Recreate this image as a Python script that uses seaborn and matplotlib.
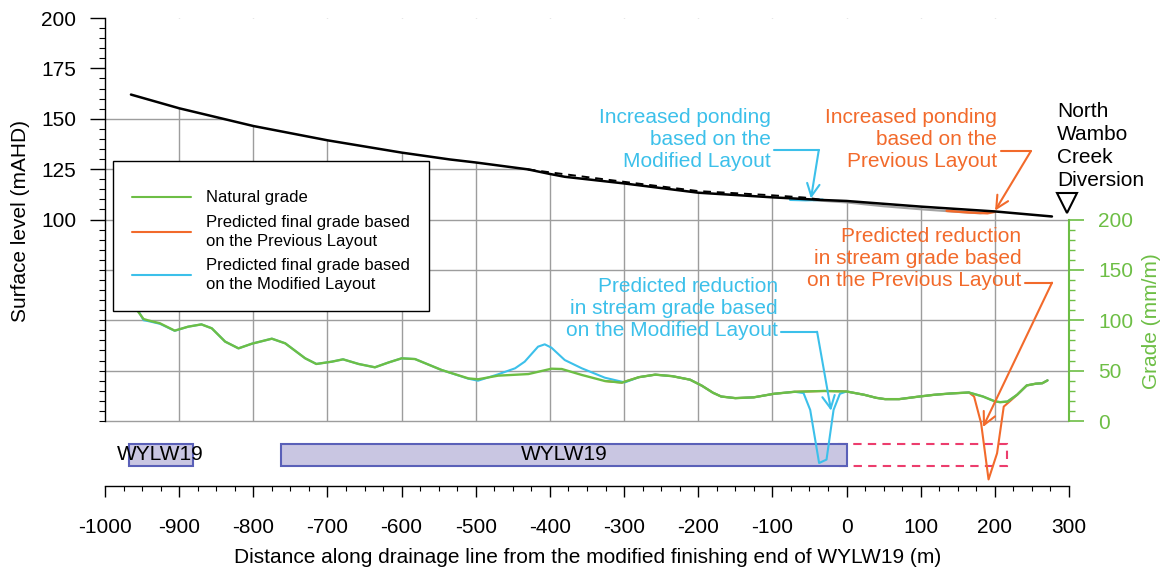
import numpy as np
import matplotlib
matplotlib.use("Agg")
import matplotlib.pyplot as plt
from matplotlib.lines import Line2D
import seaborn as sns

# -------------------------------
# Data
# -------------------------------
# surface level profile (mAHD)
surf_x = [-965, -900, -800, -700, -600, -535, -500, -430, -400, -380, -300,
          -200, -100, -34, 0, 100, 200, 277]
surf_y = [162.0, 155.2, 146.4, 139.3, 133.2, 129.8, 128.3, 124.9, 122.6, 121.2,
          117.9, 113.3, 111.0, 109.7, 109.2, 106.4, 104.0, 101.5]

# dashed surface where ponding rises above (modified layout)
pond_x = [-430, -400, -300, -200, -100, -57, -34]
pond_y = [124.9, 123.4, 118.7, 114.1, 112.0, 110.9, 109.8]

# lower grey surface (previous layout)
prev_surf_x = [-45, 0, 50, 100, 150, 180, 198]
prev_surf_y = [109.6, 108.5, 106.6, 105.1, 103.8, 103.1, 103.9]

# ponding segments
pond_mod_x = [-76, -55, -32]
pond_mod_y = [109.8, 109.6, 109.8]
pond_prev_x = [135, 165, 190, 200]
pond_prev_y = [104.3, 103.5, 103.1, 103.8]

# grade (mm/m) - natural
nat_x = [-965, -957, -948, -942, -926, -906, -888, -870, -856, -838, -820, -802,
         -775, -757, -730, -715, -694, -679, -658, -636, -618, -600, -582, -546,
         -510, -497, -470, -429, -398, -384, -357, -326, -303, -280, -258, -235,
         -211, -195, -180, -169, -150, -125, -98, -70, -30, 0, 24, 40, 52, 71,
         95, 118, 140, 165, 184, 200, 207, 217, 230, 243, 255, 264, 271]
nat_g = [130, 110.2, 101.2, 99.9, 97, 89.7, 93.6, 95.9, 92, 78.8, 72.1, 76.7,
         81.7, 77.1, 62.2, 56.6, 58.9, 61.2, 56.6, 53.3, 58, 62.2, 61.5, 50.6,
         42.3, 41.4, 45, 46.6, 51.9, 51.6, 45.7, 39.7, 38.1, 43.5, 46, 44.5,
         41, 35, 28, 24.3, 22.7, 23.5, 27, 29, 29.8, 29.3, 26, 23, 21.7, 21.7,
         24, 26, 27.3, 28.3, 24.3, 19.5, 18.7, 19.3, 26, 35.3, 37, 37.5, 40.3]

# grade - predicted, modified layout
mod_x = [-965, -957, -948, -942, -926, -906, -888, -870, -856, -838, -820, -802,
         -775, -757, -730, -715, -694, -679, -658, -636, -618, -600, -582, -546,
         -510, -497, -470, -447, -434, -416, -407, -398, -380, -357, -326, -299,
         -280, -258, -235, -211, -195, -180, -169, -150, -125, -98, -70, -58,
         -49, -37, -27, -17.5, -9, 0, 24, 40, 52, 71, 95, 118, 140, 165, 184,
         200, 207, 217, 230, 243, 255, 264, 271]
mod_g = [130, 112, 100, 99.2, 96.5, 89.5, 93.6, 95.9, 92, 78.8, 72.1, 76.7,
         81.7, 77.1, 62.2, 56.6, 58.9, 61.2, 56.6, 53.3, 58, 62.2, 61.5, 50.6,
         42, 40, 46.3, 52.3, 58.9, 73.8, 76.1, 72.8, 60.5, 52.3, 43, 38.3,
         43.5, 46, 44.5, 41, 35, 28, 24.3, 22.7, 23.5, 27, 29, 27.7,
         11, -41.7, -38.3, 11, 27, 29.3, 26, 23, 21.7, 21.7, 24, 26, 27.3, 28.3, 24.3,
         19.5, 18.7, 19.3, 26, 35.3, 37, 37.5, 40.3]

# grade - predicted, previous layout
prev_x = [-326, -303, -280, -258, -235, -211, -195, -180, -169, -150, -125, -98,
          -70, -30, 0, 24, 40, 52, 71, 95, 118, 140, 165, 172, 181.5, 191.5,
          203, 212, 224, 230, 243, 255, 264, 271]
prev_g = [39.7, 38.1, 43.5, 46, 44.5, 41, 35, 28, 24.3, 22.7, 23.5, 27,
          29, 29.8, 29.3, 26, 23, 21.7, 21.7, 24, 26, 27.3, 28.3, 24.3, -2.3, -58,
          -32, 14.3, 22, 26, 35.3, 37, 37.5, 40.3]

# longwall panels
panel_names = ["WYLW19", "WYLW19"]
panel_start = [-968, -762]
panel_end = [-882, 0]
prev_panel_start = [-10]
prev_panel_end = [216]

GREEN = "#6dbe45"
CYAN = "#3cc0ea"
ORANGE = "#f26a2b"
GRID = "#9d9d9d"
PANEL = "#c9c6e2"
PANEL_EDGE = "#5a60b8"
PINK = "#ec3d6d"

# -------------------------------
# Figure
# -------------------------------
sns.set_theme(style="ticks", rc={"axes.edgecolor": "black", "xtick.color": "black",
                                 "ytick.color": "black", "text.color": "black",
                                 "axes.labelcolor": "black"})
plt.rcParams["font.family"] = ["Liberation Sans", "DejaVu Sans"]
plt.rcParams["font.size"] = 15
plt.rcParams["axes.unicode_minus"] = False

W, H = 1167, 569
fig = plt.figure(figsize=(W / 100, H / 100), dpi=100)
ax = fig.add_axes([105 / W, 1 - 486 / H, 964 / W, 468 / H])
ybot = -65 / 2.015

# grid, then white above the surface
ax.hlines([0, 25, 50, 75, 100, 125, 150], -1000, 300, color=GRID, lw=1, zorder=1)
ax.vlines(np.arange(-900, 201, 100), 0, 200, color=GRID, lw=1, zorder=1)
ax.fill_between(surf_x + [300], surf_y + [101.0], 200, color="white", zorder=2, lw=0)

sns.lineplot(x=prev_surf_x, y=prev_surf_y, ax=ax, color="#a3a3a3", lw=1.6, zorder=3)
sns.lineplot(x=pond_prev_x, y=pond_prev_y, ax=ax, color=ORANGE, lw=1.8, zorder=3)
sns.lineplot(x=pond_mod_x, y=pond_mod_y, ax=ax, color=CYAN, lw=1.8, zorder=3)
sns.lineplot(x=pond_x, y=pond_y, ax=ax, color="black", lw=1.4, zorder=4,
             linestyle=(0, (4, 3)))
sns.lineplot(x=surf_x, y=surf_y, ax=ax, color="black", lw=1.8, zorder=4)

# panels strip
pc = (-11.4 + -22.1) / 2
ax.barh([pc] * len(prev_panel_start), np.subtract(prev_panel_end, prev_panel_start),
        left=prev_panel_start, height=10.7, fill=False, edgecolor=PINK, lw=1.5,
        linestyle=(0, (4, 3)), zorder=2.5)
ax.barh([pc] * len(panel_start), np.subtract(panel_end, panel_start), left=panel_start,
        height=10.7, color=PANEL, edgecolor=PANEL_EDGE, lw=1.5, zorder=3)
for name, s, e in zip(panel_names, panel_start, panel_end):
    ax.text((s + e) / 2, pc, name, ha="center", va="center", fontsize=15, zorder=4)

# axes limits / spines
ax.set_xlim(-1000, 300)
ax.set_ylim(ybot, 200)
for s in ["top", "right"]:
    ax.spines[s].set_visible(False)
ax.spines["left"].set_bounds(0, 200)
ax.spines["left"].set_linewidth(1)
ax.spines["bottom"].set_linewidth(1)

ax.set_yticks([100, 125, 150, 175, 200])
ax.set_yticks(np.arange(0, 201, 5), minor=True)
ax.set_xticks(np.arange(-1000, 301, 100))
ax.set_xticks(np.arange(-1000, 301, 25), minor=True)
ax.tick_params(axis="y", which="major", length=10.8, width=1, pad=10, labelsize=15,
               left=True)
ax.tick_params(axis="y", which="minor", length=4.3, width=0.8, left=True)
ax.tick_params(axis="x", which="major", length=8, width=1, pad=15, labelsize=15,
               bottom=True)
ax.tick_params(axis="x", which="minor", length=3.6, width=0.8, bottom=True)

ax.set_xlabel("Distance along drainage line from the modified finishing end of WYLW19 (m)",
              fontsize=15, va="center")
ax.xaxis.set_label_coords(0.501, -0.152)
ax.set_ylabel("Surface level (mAHD)", fontsize=15, va="center")
ax.yaxis.set_label_coords(-0.088, 0.566)

arrow = "->,head_length=0.6,head_width=0.3"

# ponding annotations (surface axis)
ax.text(-101.8, 139.7, "Increased ponding\nbased on the\nModified Layout", color=CYAN,
        ha="right", va="center", multialignment="right", fontsize=15, linespacing=1.2)
ax.plot([-97.3, -37.4], [134.5, 134.5], color=CYAN, lw=1.5)
ax.annotate("", xy=(-48, 110.4), xytext=(-37.4, 134.5),
            arrowprops=dict(arrowstyle=arrow, color=CYAN, lw=1.5, shrinkA=0, shrinkB=0))
ax.text(202.4, 139.7, "Increased ponding\nbased on the\nPrevious Layout", color=ORANGE,
        ha="right", va="center", multialignment="right", fontsize=15, linespacing=1.2)
ax.plot([207.7, 248.7], [134.0, 134.0], color=ORANGE, lw=1.5)
ax.annotate("", xy=(200.3, 104.4), xytext=(248.7, 134.0),
            arrowprops=dict(arrowstyle=arrow, color=ORANGE, lw=1.5, shrinkA=0, shrinkB=0))

ax.text(284, 136.5, "North\nWambo\nCreek\nDiversion", ha="left", va="center",
        fontsize=15, linespacing=1.25)
ax.plot([297.4], [108.2], marker="v", ms=15, mfc="white", mec="black", mew=1.5,
        clip_on=False, zorder=5)

# -------------------------------
# Grade axis
# -------------------------------
ax2 = ax.twinx()
sns.lineplot(x=prev_x, y=prev_g, ax=ax2, color=ORANGE, lw=1.5, zorder=2)
sns.lineplot(x=mod_x, y=mod_g, ax=ax2, color=CYAN, lw=1.5, zorder=2)
sns.lineplot(x=nat_x, y=nat_g, ax=ax2, color=GREEN, lw=1.7, zorder=3)
ax2.set_xlim(-1000, 300)
ax2.set_ylim(2 * ybot, 400)
for s in ["top", "left", "bottom"]:
    ax2.spines[s].set_visible(False)
ax2.spines["right"].set_bounds(0, 200)
ax2.spines["right"].set_color(GREEN)
ax2.spines["right"].set_linewidth(1.5)
ax2.set_yticks([0, 50, 100, 150, 200])
ax2.set_yticks(np.arange(0, 201, 10), minor=True)
ax2.tick_params(axis="y", which="major", length=10.8, width=1.2, pad=10, labelsize=15,
                color=GREEN, labelcolor=GREEN, right=True)
ax2.tick_params(axis="y", which="minor", length=4.3, width=1, color=GREEN, right=True)
ax2.set_ylabel("Grade (mm/m)", fontsize=15, color=GREEN, va="center")
ax2.yaxis.set_label_coords(1.086, 0.353)

ax2.text(-92.4, 111.2, "Predicted reduction\nin stream grade based\non the Modified Layout",
         color=CYAN, ha="right", va="center", multialignment="right", fontsize=15,
         linespacing=1.2)
ax2.plot([-89, -39.7], [88.6, 88.6], color=CYAN, lw=1.5)
ax2.annotate("", xy=(-20.8, 10.2), xytext=(-39.7, 88.6),
             arrowprops=dict(arrowstyle=arrow, color=CYAN, lw=1.5, shrinkA=0, shrinkB=0))
ax2.text(235.7, 160.8, "Predicted reduction\nin stream grade based\non the Previous Layout",
         color=ORANGE, ha="right", va="center", multialignment="right", fontsize=15,
         linespacing=1.2)
ax2.plot([240.3, 277.1], [137.3, 137.3], color=ORANGE, lw=1.5)
ax2.annotate("", xy=(184, -6), xytext=(277.1, 137.3),
             arrowprops=dict(arrowstyle=arrow, color=ORANGE, lw=1.5, shrinkA=0, shrinkB=0))

handles = [Line2D([], [], color=GREEN, lw=1.5),
           Line2D([], [], color=ORANGE, lw=1.5),
           Line2D([], [], color=CYAN, lw=1.5)]
labels = ["Natural grade",
          "Predicted final grade based\non the Previous Layout",
          "Predicted final grade based\non the Modified Layout"]
leg = ax2.legend(handles, labels, loc="upper left", bbox_to_anchor=(113 / W, 1 - 161 / H),
                 bbox_transform=fig.transFigure, fontsize=12, frameon=True, fancybox=False,
                 edgecolor="black", framealpha=1, borderpad=1.15, handlelength=3.5,
                 handletextpad=0.9, labelspacing=0.55, borderaxespad=0,
                 title=" ", title_fontsize=1)
for t in leg.get_texts():
    t.set_linespacing(1.35)
leg.get_frame().set_linewidth(1.0)

fig.savefig("out.png", dpi=100, facecolor="white")
